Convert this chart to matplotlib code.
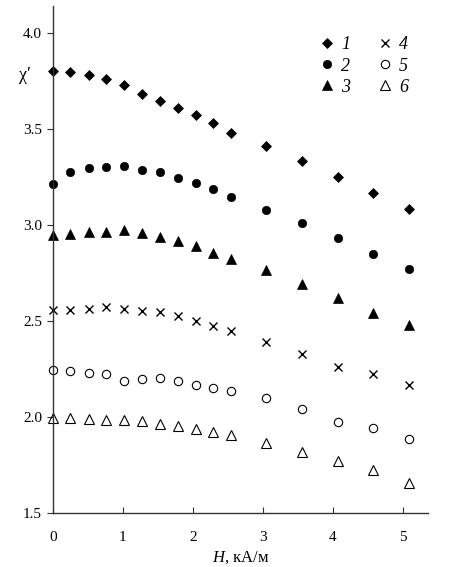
import matplotlib
matplotlib.use("Agg")
import matplotlib.pyplot as plt

H = [0, 0.25, 0.51, 0.76, 1.02, 1.27, 1.53, 1.78, 2.04, 2.29, 2.54, 3.05, 3.56, 4.07, 4.58, 5.09]
s1 = [3.80, 3.795, 3.78, 3.76, 3.73, 3.68, 3.645, 3.61, 3.57, 3.53, 3.48, 3.413, 3.332, 3.25, 3.167, 3.085]
s2 = [3.214, 3.278, 3.298, 3.30, 3.306, 3.288, 3.276, 3.246, 3.219, 3.186, 3.144, 3.078, 3.009, 2.932, 2.849, 2.772]
s3 = [2.945, 2.955, 2.965, 2.965, 2.974, 2.958, 2.937, 2.915, 2.889, 2.854, 2.824, 2.767, 2.695, 2.621, 2.544, 2.478]
s4 = [2.557, 2.557, 2.561, 2.571, 2.563, 2.554, 2.549, 2.528, 2.502, 2.474, 2.448, 2.391, 2.328, 2.262, 2.222, 2.165]
s5 = [2.246, 2.240, 2.231, 2.222, 2.186, 2.199, 2.201, 2.189, 2.168, 2.150, 2.134, 2.099, 2.042, 1.976, 1.943, 1.885]
s6 = [1.995, 1.994, 1.989, 1.984, 1.986, 1.977, 1.965, 1.952, 1.937, 1.921, 1.904, 1.864, 1.819, 1.770, 1.725, 1.658]
labels = ["1", "2", "3", "4", "5", "6"]
xticks = [0, 1, 2, 3, 4, 5]
yticks = [1.5, 2.0, 2.5, 3.0, 3.5, 4.0]

plt.rcParams['font.family'] = ['Liberation Serif', 'DejaVu Serif']
plt.rcParams['mathtext.fontset'] = 'custom'
plt.rcParams['mathtext.it'] = 'Liberation Serif:italic'
plt.rcParams['mathtext.rm'] = 'Liberation Serif'

fig = plt.figure(figsize=(4.59, 5.67), dpi=100)
ax = fig.add_axes([53/459, 1-513/567, (428-53)/459, (513-6)/567])

styles = [
    dict(marker='D', ms=5.0, mfc='black', mec='black', mew=0.5),
    dict(marker='o', ms=6.0, mfc='black', mec='black', mew=0.5),
    dict(marker='^', ms=7.0, mfc='black', mec='black', mew=0.5),
    dict(marker='x', ms=5.5, mfc='none', mec='black', mew=1.0),
    dict(marker='o', ms=6.0, mfc='none', mec='black', mew=0.8),
    dict(marker='^', ms=6.5, mfc='none', mec='black', mew=0.8),
]
series = [s1, s2, s3, s4, s5, s6]
handles = []
for s, st, lab in zip(series, styles, labels):
    h, = ax.plot(H, s, linestyle='none', label=lab, clip_on=False, **st)
    handles.append(h)

ax.set_xlim(0, 5.36)
ax.set_ylim(1.5, 4.14)
ax.set_xticks(xticks)
ax.set_xticklabels([str(v) for v in xticks])
ax.set_yticks(yticks)
ax.set_yticklabels([f"{v:.1f}" for v in yticks])
for sp in ['top', 'right']:
    ax.spines[sp].set_visible(False)
for sp in ['left', 'bottom']:
    ax.spines[sp].set_color('#333333')
    ax.spines[sp].set_linewidth(1.0)
ax.tick_params(axis='x', direction='in', length=4, width=0.8, color='#333333', labelsize=11, pad=13)
ax.tick_params(axis='y', direction='out', length=4, width=0.8, color='#333333', labelsize=11, pad=4)

ax.set_xlabel(r"$\mathit{H}$, кА/м", fontsize=12, labelpad=4)
fig.text(25/459, 1-75/567, "χ′", fontsize=13, ha='center', va='center')

leg = ax.legend(handles=handles, labels=labels, ncol=2, loc='upper left',
                bbox_to_anchor=(0.663, 0.972), frameon=False, handlelength=1.0,
                handletextpad=0.3, columnspacing=1.4, labelspacing=0.23,
                prop={'family': 'Liberation Serif', 'style': 'italic', 'size': 13})

fig.savefig("out.png", dpi=100)
